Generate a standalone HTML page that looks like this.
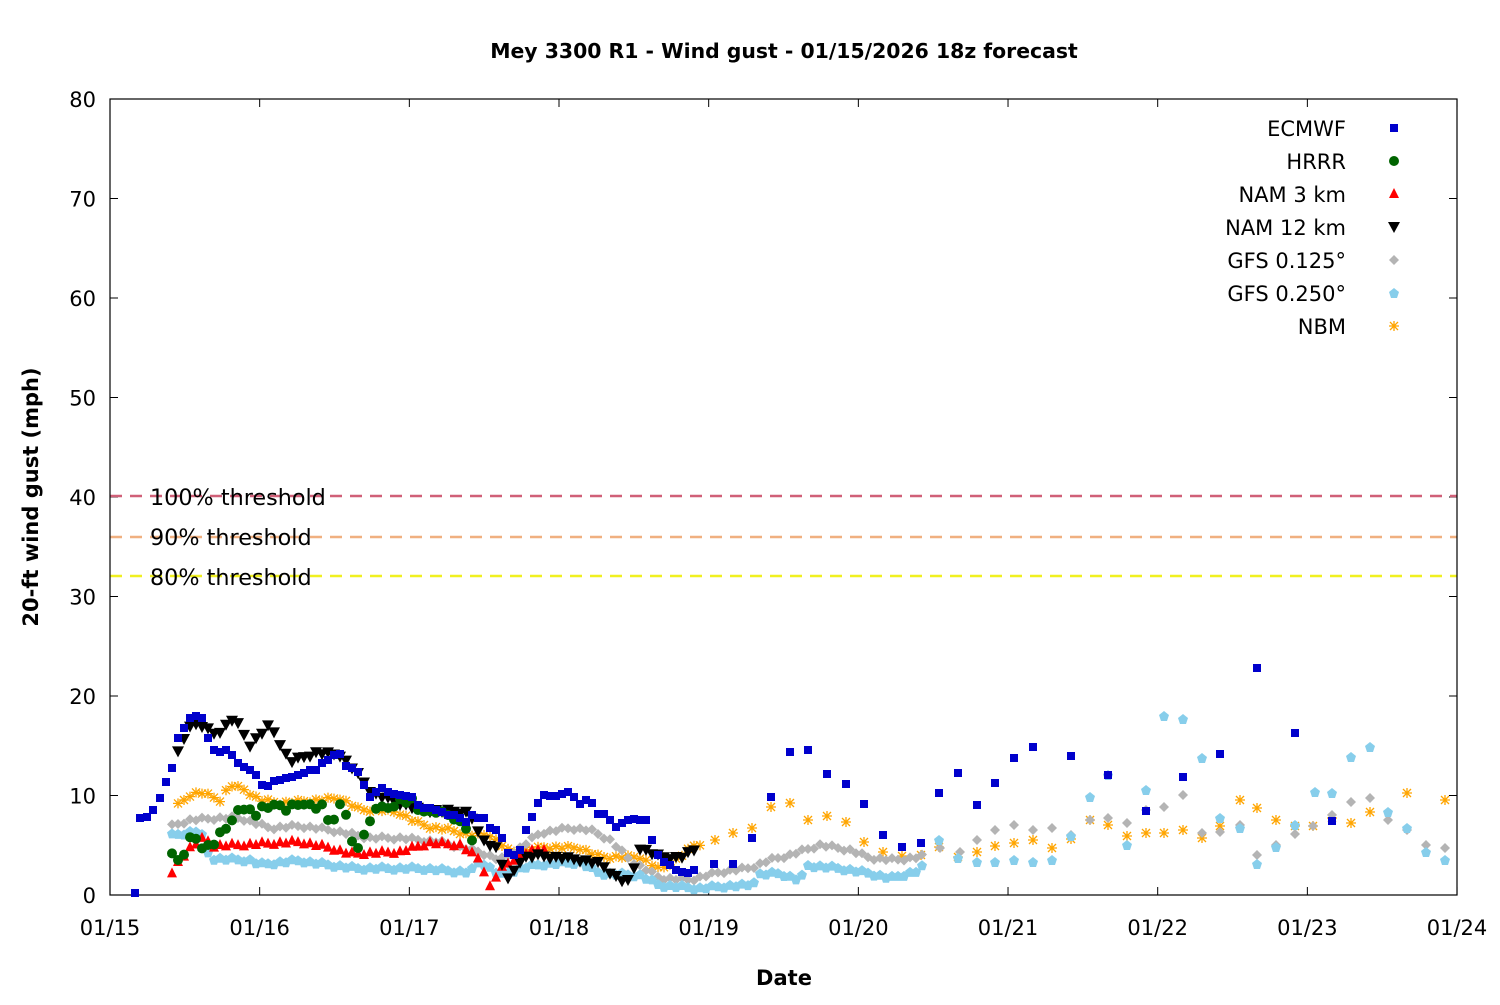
<!DOCTYPE html>
<html><head><meta charset="utf-8"><style>
html,body{margin:0;padding:0;background:#fff}
svg text{font-family:"DejaVu Sans","Liberation Sans",sans-serif}
</style></head><body>
<svg id="s" width="1500" height="1000" xmlns="http://www.w3.org/2000/svg">
<rect width="1500" height="1000" fill="#fff"/>
<text x="784" y="58" text-anchor="middle" font-size="20.4" font-weight="bold">Mey 3300 R1 - Wind gust - 01/15/2026 18z forecast</text>
<g id="grid"></g>
<line x1="110" y1="496" x2="1457" y2="496" stroke="#d06078" stroke-width="2.5" stroke-dasharray="12,8"/>
<line x1="110" y1="537" x2="1457" y2="537" stroke="#f0b080" stroke-width="2.5" stroke-dasharray="12,8"/>
<line x1="110" y1="576" x2="1457" y2="576" stroke="#f0f020" stroke-width="2.5" stroke-dasharray="12,8"/>
<text x="150" y="505" font-size="22.3">100% threshold</text>
<text x="150" y="545" font-size="22.3">90% threshold</text>
<text x="150" y="585" font-size="22.3">80% threshold</text>
<rect x="110" y="99" width="1347" height="796" fill="none" stroke="#000" stroke-width="1.2"/>
<text x="784" y="985" text-anchor="middle" font-size="21" font-weight="bold">Date</text>
<text transform="translate(38,497) rotate(-90)" text-anchor="middle" font-size="21" font-weight="bold">20-ft wind gust (mph)</text>
<g id="pts"></g>
<g font-size="21" text-anchor="end">
<text x="1346" y="136">ECMWF</text><text x="1346" y="169">HRRR</text><text x="1346" y="202">NAM 3 km</text><text x="1346" y="235">NAM 12 km</text><text x="1346" y="268">GFS 0.125°</text><text x="1346" y="301">GFS 0.250°</text><text x="1346" y="334">NBM</text>
</g>
</svg>
<script>
var NS="http://www.w3.org/2000/svg",svg=document.getElementById('s'),G=document.getElementById('pts'),GR=document.getElementById('grid');
function el(t,a,p){var e=document.createElementNS(NS,t);for(var k in a)e.setAttribute(k,a[k]);(p||G).appendChild(e);return e;}
for(var i=0;i<=8;i++){var y=895-i*99.5;el('line',{x1:110,y1:y,x2:118,y2:y,stroke:'#000'},GR);el('line',{x1:1449,y1:y,x2:1457,y2:y,stroke:'#000'},GR);
var t=el('text',{x:96,y:y+8,'text-anchor':'end','font-size':21},GR);t.textContent=i*10;}
var d=['01/15','01/16','01/17','01/18','01/19','01/20','01/21','01/22','01/23','01/24'];
for(var i=0;i<=9;i++){var x=110+i*149.67;el('line',{x1:x,y1:895,x2:x,y2:887,stroke:'#000'},GR);el('line',{x1:x,y1:99,x2:x,y2:107,stroke:'#000'},GR);
var t=el('text',{x:x,y:935,'text-anchor':'middle','font-size':21},GR);t.textContent=d[i];}
function mk(type,x,y){
 if(type=='sq')el('rect',{x:x-4,y:y-4,width:8,height:8,fill:'#0000cc'});
 else if(type=='ci')el('circle',{cx:x,cy:y,r:5,fill:'#006400'});
 else if(type=='tu')el('polygon',{points:(x-5)+','+(y+4)+' '+(x+5)+','+(y+4)+' '+x+','+(y-6),fill:'#ff0000'});
 else if(type=='td')el('polygon',{points:(x-6)+','+(y-5)+' '+(x+6)+','+(y-5)+' '+x+','+(y+6),fill:'#000'});
 else if(type=='di')el('polygon',{points:x+','+(y-5)+' '+(x+5)+','+y+' '+x+','+(y+5)+' '+(x-5)+','+y,fill:'#b4b4b4'});
 else if(type=='pe')el('polygon',{points:x+','+(y-5)+' '+(x+5)+','+(y-1)+' '+(x+3)+','+(y+5)+' '+(x-3)+','+(y+5)+' '+(x-5)+','+(y-1),fill:'#87ceeb'});
 else if(type=='as'){var c='#ffa500';el('path',{d:'M'+(x-5)+' '+y+'h10M'+x+' '+(y-5)+'v10M'+(x-4)+' '+(y-4)+'l8 8M'+(x-4)+' '+(y+4)+'l8 -8',stroke:c,'stroke-width':1.3,fill:'none'});}
}
function interp(a,x){for(var i=0;i<a.length-1;i++){if(x>=a[i][0]&&x<=a[i+1][0]){var f=(x-a[i][0])/(a[i+1][0]-a[i][0]||1);return a[i][1]+f*(a[i+1][1]-a[i][1]);}}return null;}
function ser(type,a,step,until){var x0=a[0][0];var lim=Math.min(until,a[a.length-1][0]);var k=0;
 for(var x=x0;x<=lim;x+=step){var y=interp(a,x);if(y!==null){mk(type,x,y+((k*7)%5-2)*0.8);}k++;}
 for(var i=0;i<a.length;i++)if(a[i][0]>until)mk(type,a[i][0],a[i][1]);}
var EC=[[135,893],[140,818],[147,817],[153,810],[160,798],[166,782],[172,768],[178,738],[184,728],[190,718],[196,716],[202,718],[208,738],[214,750],[220,752],[226,750],[232,755],[238,763],[244,767],[250,770],[256,775],[262,785],[268,786],[274,781],[280,780],[286,778],[292,777],[298,775],[304,773],[310,770],[316,770],[322,763],[328,760],[334,755],[340,754],[346,766],[352,768],[358,772],[364,785],[370,797],[376,792],[382,788],[388,792],[394,794],[400,795],[406,796],[412,797],[418,805],[424,808],[430,808],[436,810],[442,812],[448,815],[454,815],[460,818],[466,822],[472,815],[478,818],[484,818],[490,828],[496,830],[502,838],[508,853],[514,855],[520,850],[526,830],[532,817],[538,803],[544,795],[550,796],[556,796],[562,794],[568,792],[574,797],[580,804],[586,800],[592,803],[598,814],[604,814],[610,820],[616,827],[622,823],[628,820],[634,819],[640,820],[646,820],[652,840],[658,855],[664,862],[670,865],[676,870],[682,872],[688,873],[694,870],[714,864],[733,864],[752,838],[771,797],[790,752],[808,750],[827,774],[846,784],[864,804],[883,835],[902,847],[921,843],[939,793],[958,773],[977,805],[995,783],[1014,758],[1033,747],[1071,756],[1108,775],[1146,811],[1183,777],[1220,754],[1257,668],[1295,733],[1332,821]];
var GFS1=[[172,826],[190,820],[220,818],[240,818],[270,828],[300,826],[330,830],[370,838],[400,838],[440,842],[480,852],[500,860],[520,848],[540,833],[570,828],[590,830],[610,840],[630,860],[660,878],[690,880],[720,872],[750,868],[770,860],[790,855],[820,845],[850,850],[870,858],[895,860],[920,857],[940,848],[960,852],[977,840],[995,830],[1014,825],[1033,830],[1052,828],[1071,835],[1090,820],[1108,818],[1127,823],[1146,810],[1164,807],[1183,795],[1202,833],[1220,832],[1240,825],[1257,855],[1276,845],[1295,834],[1313,826],[1332,815],[1351,802],[1370,798],[1388,820],[1407,830],[1426,845],[1445,848]];
var GFS2=[[172,835],[200,830],[210,858],[250,860],[260,864],[300,860],[310,862],[356,868],[380,868],[420,868],[470,872],[480,860],[500,875],[520,868],[540,864],[580,862],[600,873],[640,875],[660,885],[700,888],[720,886],[750,885],[760,874],[780,873],[800,880],[808,865],[840,868],[870,873],[890,878],[920,870],[939,840],[958,858],[977,862],[995,862],[1014,860],[1033,862],[1052,860],[1071,836],[1090,797],[1108,775],[1127,845],[1146,790],[1164,716],[1183,719],[1202,758],[1220,818],[1240,828],[1257,864],[1276,847],[1295,825],[1315,792],[1332,793],[1351,757],[1370,747],[1388,812],[1407,828],[1426,852],[1445,860]];
var NBM=[[178,805],[190,795],[200,792],[220,800],[230,785],[245,790],[260,800],[280,803],[320,800],[340,798],[360,810],[380,810],[400,813],[415,822],[430,827],[450,830],[470,835],[490,835],[510,852],[530,850],[545,847],[580,848],[600,857],[640,857],[660,870],[678,858],[695,845],[715,840],[733,833],[752,828],[771,807],[790,803],[808,820],[827,816],[846,822],[864,842],[883,852],[902,856],[921,855],[939,847],[958,857],[977,852],[995,846],[1014,843],[1033,840],[1052,848],[1071,839],[1090,820],[1108,825],[1127,836],[1146,833],[1164,833],[1183,830],[1202,838],[1220,826],[1240,800],[1257,808],[1276,820],[1295,826],[1313,826],[1332,818],[1351,823],[1370,812],[1407,793],[1445,800]];
ser('as',NBM,6,700);
ser('di',GFS1,6,925);
ser('pe',GFS2,6,925);
ser('tu',[[172,875],[178,862],[190,848],[204,838],[214,846],[240,845],[300,842],[330,848],[350,854],[400,852],[430,843],[460,845],[480,860],[490,887],[500,870],[510,862],[520,855],[545,848]],6,9999);
ser('td',[[178,753],[190,725],[200,725],[216,735],[234,718],[250,745],[270,725],[290,762],[316,753],[340,755],[356,772],[372,793],[390,800],[420,810],[460,812],[470,813],[480,838],[496,848],[508,880],[522,858],[538,856],[560,858],[580,860],[600,864],[620,880],[630,882],[640,848],[660,857],[680,858],[695,850]],6,9999);
ser('ci',[[172,855],[178,860],[184,853],[190,838],[196,838],[202,850],[208,845],[214,843],[220,833],[226,828],[232,822],[238,810],[244,808],[250,810],[256,815],[262,808],[268,808],[274,803],[280,806],[286,810],[292,806],[298,805],[304,803],[310,805],[316,808],[322,806],[328,820],[334,818],[340,805],[346,814],[352,843],[358,848],[364,833],[370,822],[376,808],[382,808],[388,808],[394,805],[400,800],[406,802],[412,800],[418,810],[424,810],[430,812],[436,812],[442,813],[448,815],[454,818],[460,822],[466,828],[472,842]],6,9999);
EC.forEach(function(p){mk('sq',p[0],p[1]);});
mk('sq',1394,128);mk('ci',1394,161);mk('tu',1394,194);mk('td',1394,227);mk('di',1394,260);mk('pe',1394,293);mk('as',1394,326);
</script>
</body></html>
